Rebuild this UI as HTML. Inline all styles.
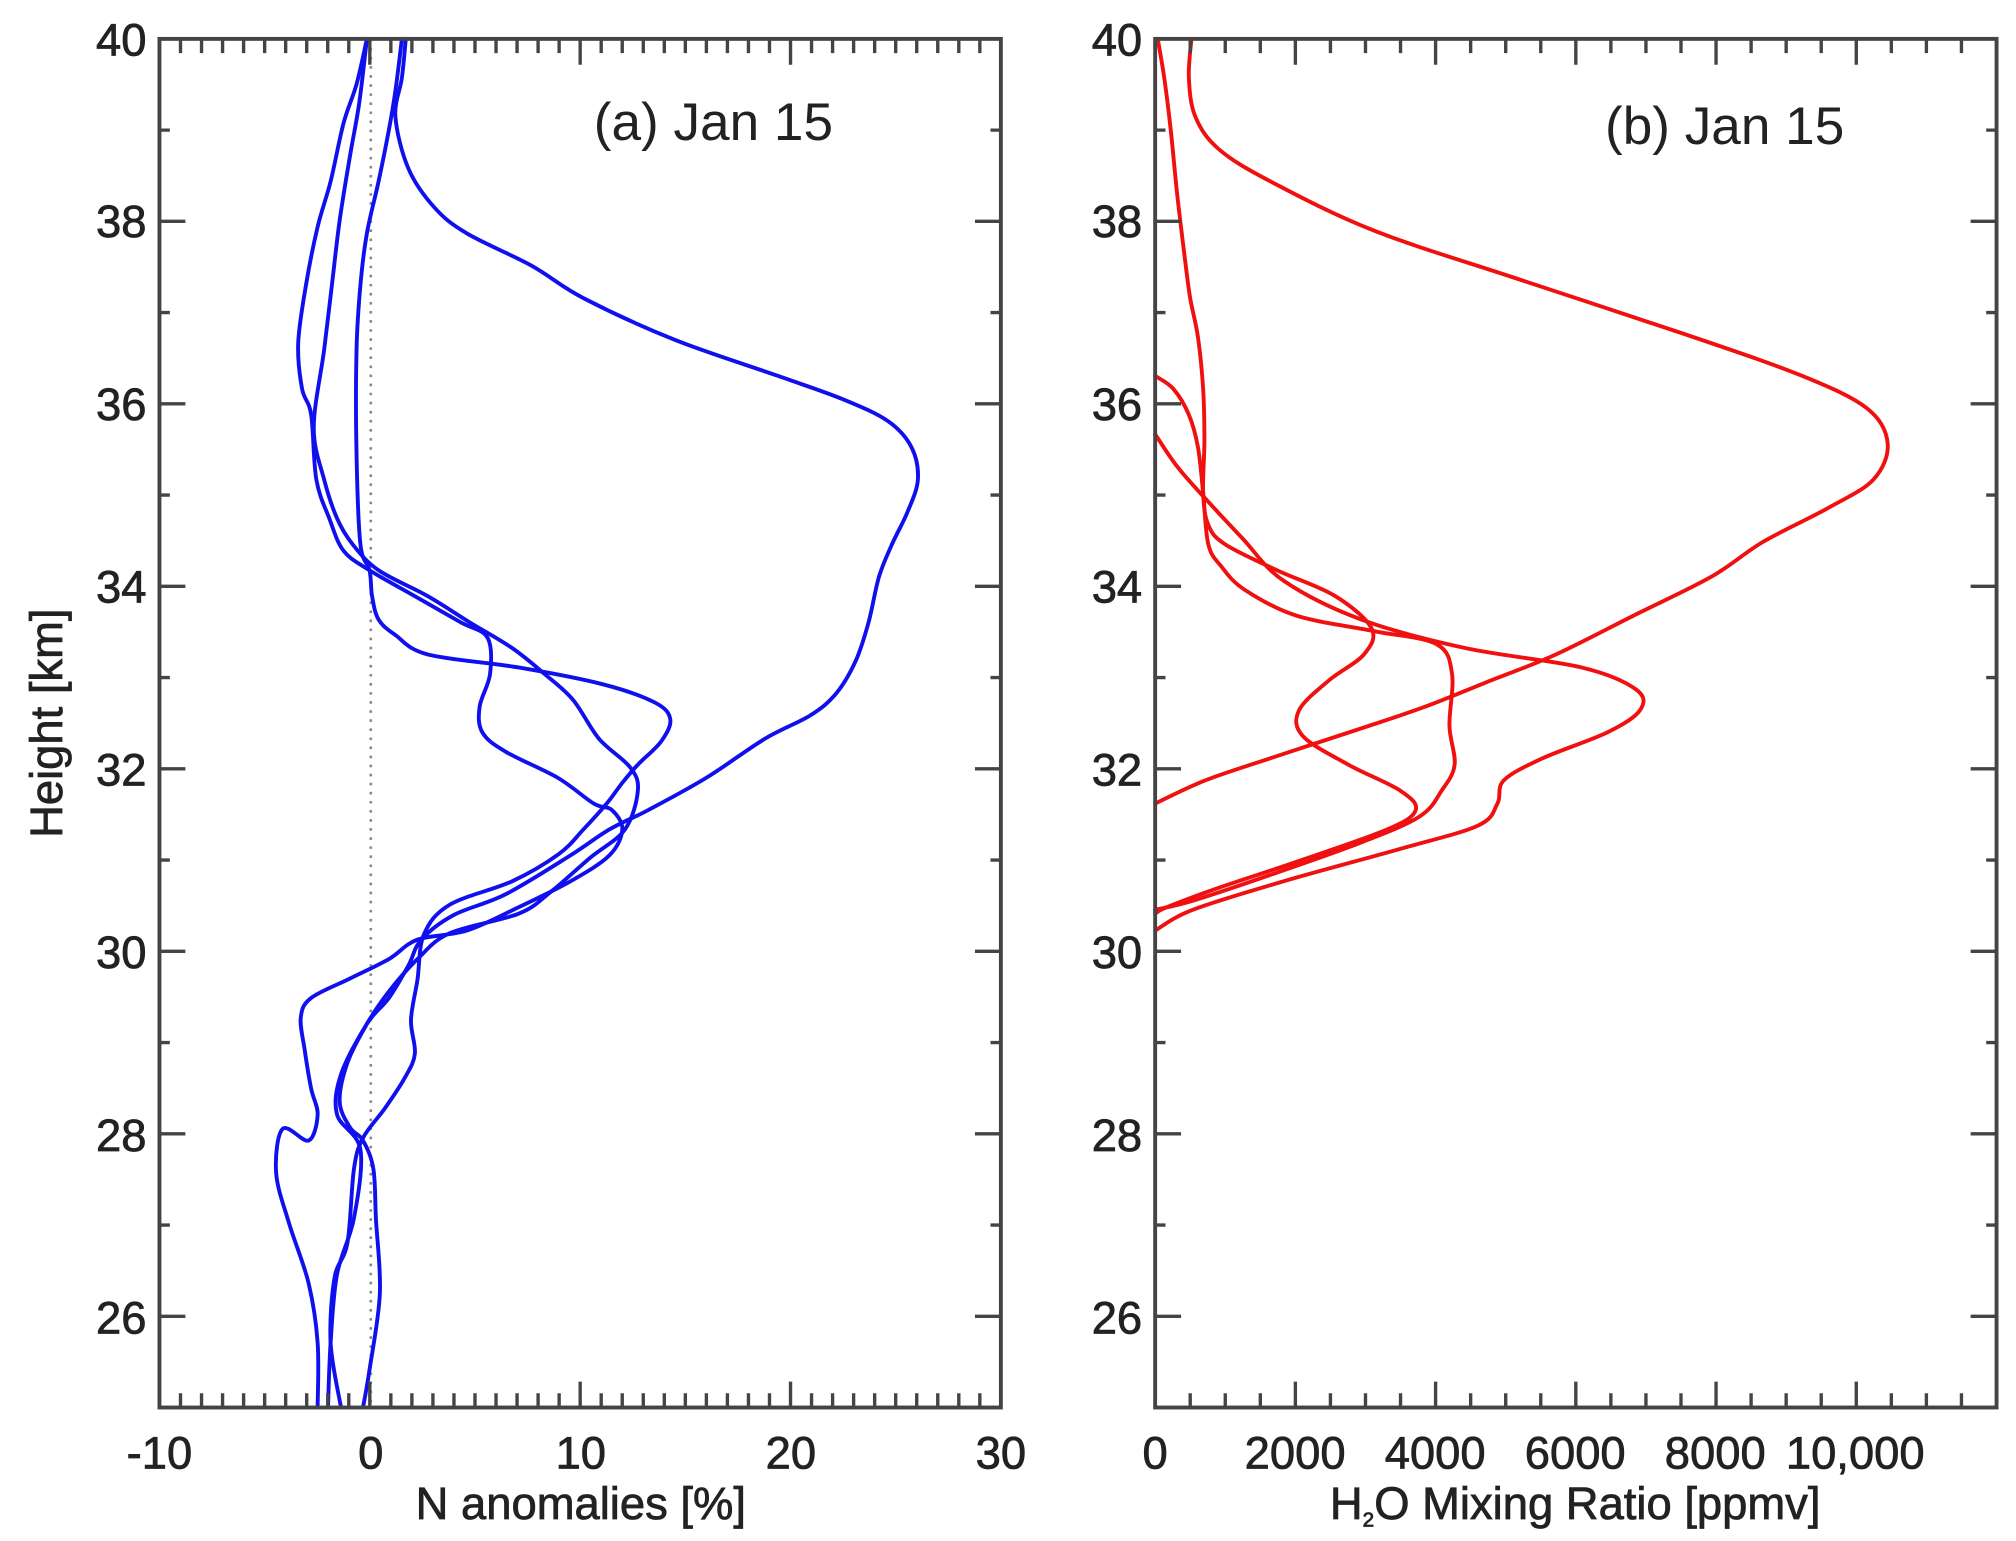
<!DOCTYPE html>
<html><head><meta charset="utf-8"><style>
html,body{margin:0;padding:0;background:#fff}
svg{display:block}
text{font-family:"Liberation Sans",sans-serif;fill:#222}
</style></head><body>
<svg id="s" width="2016" height="1541" viewBox="0 0 1555 1189" preserveAspectRatio="none">
<rect width="1555" height="1189" fill="#fff"/>
<line x1="286" y1="30" x2="286" y2="1086" stroke="#888" stroke-width="2" stroke-dasharray="2,5"/>
<g fill="none" stroke="#1010ee" stroke-width="3" stroke-linejoin="round" stroke-linecap="round">
<polyline class="sm" points="313,30 310,60 305,90 315,130 335,160 360,180 410,205 450,230 520,262 600,290 650,308 685,325 703,345 708,370 700,395 688,420 678,445 670,480 660,510 645,535 625,552 590,570 545,600 500,625 470,640 440,660 390,690 350,706 325,725 315,745 300,770 283,790 263,829 260,860 278,887 273,940 260,983 255,1036 253,1086"/>
<polyline class="sm" points="283,30 275,65 265,95 255,140 245,175 236,220 230,265 233,300 240,320 244,370 254,400 265,425 285,440 320,460 355,480 376,492 378,520 370,545 372,565 390,580 430,600 458,620 472,625 480,640 470,660 440,680 400,700 360,718 322,725 300,740 270,755 240,770 232,785 235,810 240,840 245,860 238,880 218,871 213,905 223,944 238,990 245,1036 245,1086"/>
<polyline class="sm" points="283,30 277,80 270,120 262,170 256,220 250,270 242,330 250,370 260,400 272,420 292,440 330,460 362,480 395,500 420,520 442,540 462,570 486,592 492,610 482,640 455,662 425,688 400,705 347,720 322,740 300,765 283,790 268,820 262,850 270,870 280,880 288,902 290,941 293,998 285,1057 280,1086"/>
<polyline class="sm" points="310,30 305,70 300,100 292,140 283,180 278,220 275,270 275,350 278,420 285,440 287,460 292,478 305,490 330,505 400,515 465,528 505,542 517,555 510,572 492,590 480,604 468,620 450,640 431,659 395,680 347,698 327,721 322,756 317,787 320,813 312,832 297,855 280,878 273,902 268,959 258,986 255,1036 263,1086"/>
</g>
<g fill="none" stroke="#f01010" stroke-width="3" stroke-linejoin="round" stroke-linecap="round">
<polyline class="sm" points="919,30 917,60 922,90 940,115 980,140 1060,178 1170,215 1300,258 1390,290 1440,315 1456,342 1445,370 1410,392 1360,418 1320,445 1260,475 1200,505 1150,525 1100,545 1050,562 980,585 930,602 891,620"/>
<polyline class="sm" points="893,30 898,60 903,100 908,150 914,200 918,230 924,260 928,300 929,340 928,380 932,405 945,420 985,440 1030,460 1058,485 1052,505 1025,525 1002,548 1005,568 1040,590 1080,610 1092,625 1070,640 1000,665 940,685 900,700 891,705"/>
<polyline class="sm" points="891,290 905,300 917,320 924,345 928,380 932,420 942,437 960,455 1000,475 1060,487 1108,497 1120,520 1118,560 1122,590 1112,610 1095,630 1050,650 980,675 920,695 891,702"/>
<polyline class="sm" points="891,335 908,360 930,385 958,415 990,448 1050,478 1130,500 1220,515 1262,532 1265,548 1240,565 1190,585 1160,602 1155,620 1140,637 1080,655 990,680 920,702 891,718"/>
</g>
<g id="ax" fill="none" stroke="#444" stroke-width="2.6"></g>
<rect x="123" y="30" width="649" height="1056" fill="none" stroke="#444" stroke-width="3"/>
<rect x="891" y="30" width="649" height="1056" fill="none" stroke="#444" stroke-width="3"/>
<g font-size="35" text-anchor="end" stroke="#222" stroke-width="0.6">
<text x="113" y="43">40</text><text x="113" y="183">38</text><text x="113" y="324">36</text><text x="113" y="465">34</text><text x="113" y="606">32</text><text x="113" y="747">30</text><text x="113" y="888">28</text><text x="113" y="1029">26</text>
<text x="881" y="43">40</text><text x="881" y="183">38</text><text x="881" y="324">36</text><text x="881" y="465">34</text><text x="881" y="606">32</text><text x="881" y="747">30</text><text x="881" y="888">28</text><text x="881" y="1029">26</text>
</g>
<g font-size="35" text-anchor="middle" stroke="#222" stroke-width="0.6">
<text x="123" y="1133">-10</text><text x="286" y="1133">0</text><text x="448" y="1133">10</text><text x="610" y="1133">20</text><text x="772" y="1133">30</text>
<text x="891" y="1133">0</text><text x="999" y="1133">2000</text><text x="1107" y="1133">4000</text><text x="1215" y="1133">6000</text><text x="1323" y="1133">8000</text><text x="1431" y="1133">10,000</text>
<text x="448" y="1172">N anomalies [%]</text>
<text x="1215" y="1172">H<tspan font-size="16" dy="6">2</tspan><tspan dy="-6">O Mixing Ratio [ppmv]</tspan></text>
<text transform="translate(48,558) rotate(-90)">Height [km]</text>
</g>
<g font-size="41" style="font-family:'Liberation Sans Narrow','Liberation Sans',sans-serif">
<text x="458" y="108">(a) Jan 15</text>
<text x="1238" y="111">(b) Jan 15</text>
</g>
</svg>
<script>
(function(){
var NS="http://www.w3.org/2000/svg";
var d="";
function panel(x0,nx,dx,majEvery){
 for(var i=1;i<nx;i++){var x=x0+i*dx;var L=(i%majEvery==0)?20:11;
  d+="M"+x+" 1086v-"+L+"M"+x+" 30v"+L;}
 for(var j=1;j<15;j++){var y=30+j*70.4;var km=40-j;var L=(km%2==0)?20:8;
  d+="M"+x0+" "+y+"h"+L+"M"+(x0+649)+" "+y+"h-"+L;}
}
panel(123,40,16.225,10);
panel(891,24,27.04,4);
var p=document.createElementNS(NS,"path");
p.setAttribute("d",d);document.getElementById("ax").appendChild(p);
// smooth polylines (Catmull-Rom)
var pls=document.querySelectorAll("polyline.sm");
for(var k=0;k<pls.length;k++){
 var pl=pls[k];var pts=pl.getAttribute("points").trim().split(/\s+/).map(function(s){return s.split(",").map(Number);});
 var s="M"+pts[0][0]+" "+pts[0][1];
 for(var i=0;i<pts.length-1;i++){
  var p0=pts[i-1]||pts[i],p1=pts[i],p2=pts[i+1],p3=pts[i+2]||p2;
  var c1x=p1[0]+(p2[0]-p0[0])/6,c1y=p1[1]+(p2[1]-p0[1])/6;
  var c2x=p2[0]-(p3[0]-p1[0])/6,c2y=p2[1]-(p3[1]-p1[1])/6;
  s+="C"+c1x+" "+c1y+" "+c2x+" "+c2y+" "+p2[0]+" "+p2[1];
 }
 var np=document.createElementNS(NS,"path");np.setAttribute("d",s);
 pl.parentNode.replaceChild(np,pl);
}
})();
</script>
</body></html>
